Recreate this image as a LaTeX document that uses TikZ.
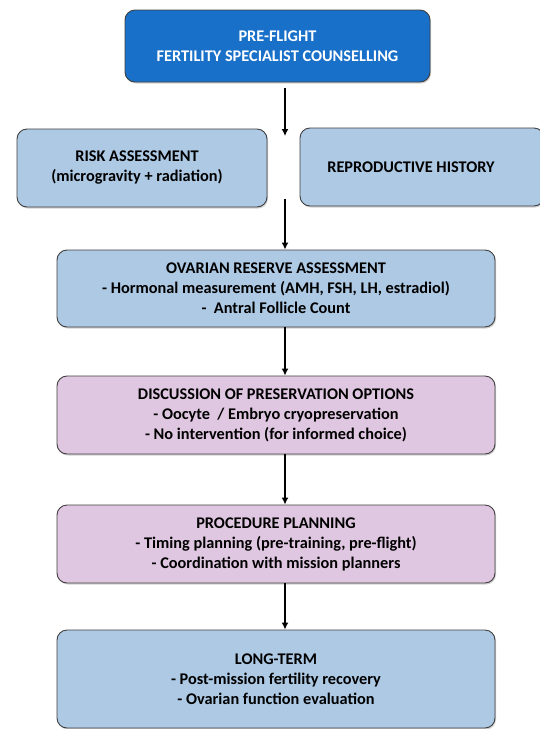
\documentclass[tikz,border=0pt]{standalone}
\usepackage{fontspec}
\setmainfont{Carlito}
\usetikzlibrary{arrows.meta,shadows}
\definecolor{topblue}{HTML}{1870C9}
\definecolor{lightblue}{HTML}{ADC9E4}
\definecolor{lightpink}{HTML}{E0C7E1}
\definecolor{edgegray}{HTML}{3F3F3F}
\tikzset{
  stagebox/.style={draw=edgegray, line width=0.9pt, rounded corners=10pt,
    align=center, inner sep=0pt, font=\fontsize{16.3}{20}\selectfont\bfseries,
    drop shadow={shadow xshift=1pt, shadow yshift=-1.5pt, opacity=0.35}},
  flowarrow/.style={line width=2pt, -{Latex[length=7pt,width=7pt]}}
}
\begin{document}
\begin{tikzpicture}[x=1pt,y=-1pt]
  \useasboundingbox[fill=white] (0,0) rectangle (539,729);
  % top box
  \node[stagebox, fill=topblue, text=white, minimum width=305pt, minimum height=72pt]
    (counsel) at (277.5,46) {PRE-FLIGHT\\FERTILITY SPECIALIST COUNSELLING};
  % second row
  \node[stagebox, fill=lightblue, minimum width=250pt, minimum height=78pt]
    (risk) at (142,168) {RISK ASSESSMENT\hspace*{10pt}\\(microgravity + radiation)\hspace*{10pt}};
  \node[stagebox, fill=lightblue, minimum width=244pt, minimum height=78pt]
    (history) at (422,167) {REPRODUCTIVE HISTORY\hspace*{22pt}};
  % main column
  \node[stagebox, fill=lightblue, minimum width=438pt, minimum height=77pt]
    (reserve) at (276,288.5) {OVARIAN RESERVE ASSESSMENT\\- Hormonal measurement (AMH, FSH, LH, estradiol)\\-~~Antral Follicle Count};
  \node[stagebox, fill=lightpink, minimum width=438pt, minimum height=78pt]
    (options) at (276,415) {DISCUSSION OF PRESERVATION OPTIONS\\- Oocyte~~/ Embryo cryopreservation\\- No intervention (for informed choice)};
  \node[stagebox, fill=lightpink, minimum width=438pt, minimum height=78pt]
    (planning) at (276,544) {PROCEDURE PLANNING\\- Timing planning (pre-training, pre-flight)\\- Coordination with mission planners};
  \node[stagebox, fill=lightblue, minimum width=438pt, minimum height=98pt]
    (longterm) at (276,679) {LONG-TERM\\- Post-mission fertility recovery\\- Ovarian function evaluation};
  % arrows
  \coordinate (axis) at (285,0);
  \coordinate (split) at (285,136);
  \coordinate (merge) at (285,199);
  \draw[flowarrow] ([yshift=-6pt]counsel.south -| axis) -- (split);
  \draw[flowarrow] (merge) -- (reserve.north -| axis);
  \draw[flowarrow] (reserve.south -| axis) -- (options.north -| axis);
  \draw[flowarrow] (options.south -| axis) -- (planning.north -| axis);
  \draw[flowarrow] (planning.south -| axis) -- (longterm.north -| axis);
\end{tikzpicture}
\end{document}
